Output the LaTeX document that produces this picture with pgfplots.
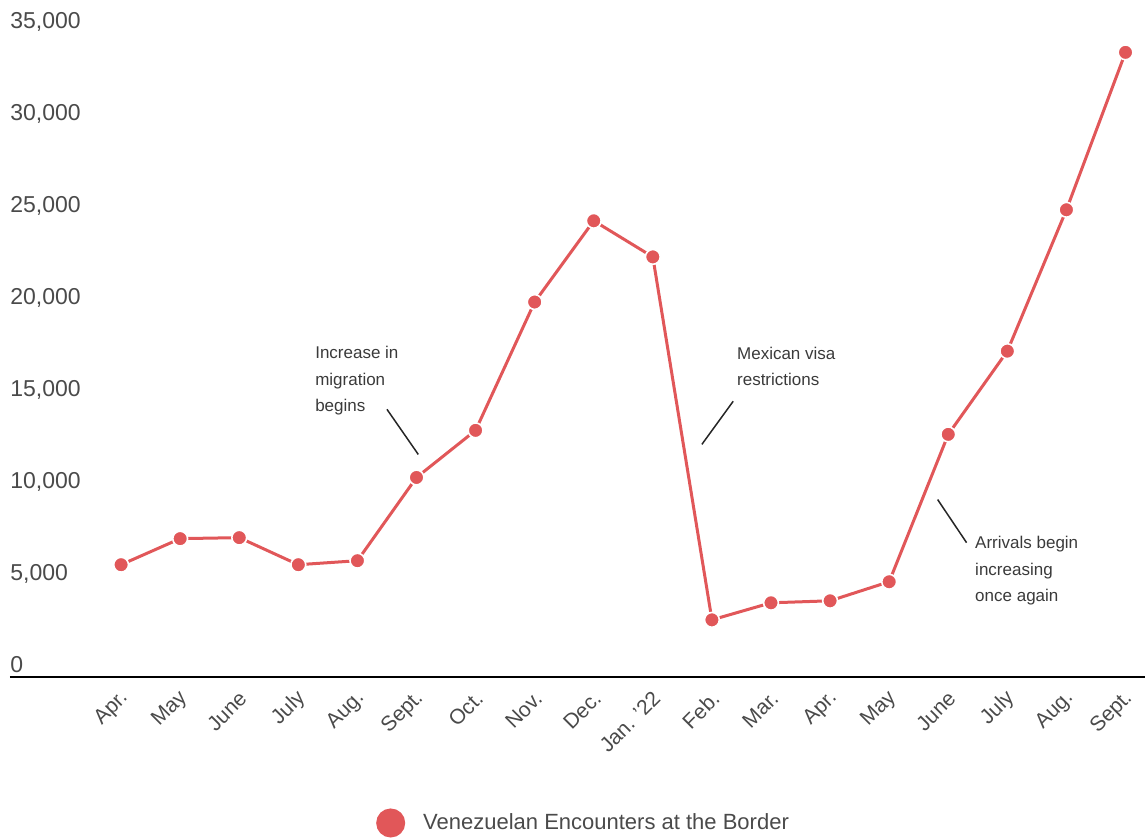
\documentclass[border=0pt]{standalone}
\usepackage{pgfplots}
\pgfplotsset{compat=1.18}
\usepackage{fontspec}
\setmainfont{Liberation Sans}
\definecolor{vzred}{HTML}{E15759}
\definecolor{ticktext}{HTML}{4A4A4A}
\definecolor{notetext}{HTML}{3A3A3A}

\begin{document}
\begin{tikzpicture}
\useasboundingbox (0pt,0pt) rectangle (572.5pt,418.5pt);
\begin{axis}[
  at={(5pt,80pt)}, anchor=south west,
  width=567.5pt, height=331pt, scale only axis,
  xmin=-1.88, xmax=17.33, ymin=0, ymax=36000,
  clip=false,
  axis x line*=bottom, axis y line*=left,
  x axis line style={draw=black, line width=1pt, -},
  y axis line style={draw=none},
  xtick={0,...,17},
  xticklabels={Apr.,May,June,July,Aug.,Sept.,Oct.,Nov.,Dec.,{Jan. '22},Feb.,Mar.,Apr.,May,June,July,Aug.,Sept.},
  ytick={0,5000,...,35000},
  major tick length=0pt,
  scaled y ticks=false,
  yticklabel style={anchor=base west, inner sep=0pt, yshift=2.5pt,
    font=\fontsize{11.5}{13}\selectfont, text=ticktext,
    /pgf/number format/.cd, fixed, 1000 sep={,}, assume math mode=true},
  xticklabel style={xshift=2pt, yshift=-9pt, rotate=45, anchor=east, inner sep=0pt,
    font=\fontsize{10.5}{12}\selectfont, text=ticktext},
  legend image code/.code={\fill[vzred] (0pt,0pt) circle (6.5pt);},
  legend style={draw=none, fill=none, at={(0.317,-0.2205)}, anchor=west,
    font=\fontsize{11}{13}\selectfont, text=ticktext},
  legend cell align=left,
]
\addplot[vzred, line width=1.5pt, mark=*, mark size=3.7pt,
  mark options={fill=vzred, draw=white, line width=0.8pt}]
  coordinates {
  (0,6107) (1,7525) (2,7579) (3,6107) (4,6325) (5,10851)
  (6,13413) (7,20392) (8,24809) (9,22846) (10,3108) (11,4035)
  (12,4144) (13,5180) (14,13195) (15,17721) (16,25409) (17,33970)
  };
\addlegendentry{\hspace{7pt}Venezuelan Encounters at the Border}

% annotations
\tikzset{note/.style={anchor=base west, inner sep=0pt, text=notetext,
  font=\fontsize{8.5}{10}\selectfont}}
\node[note] at (axis cs:3.28,17339) {Increase in};
\node[note] at (axis cs:3.28,15867) {migration};
\node[note] at (axis cs:3.28,14449) {begins};
\draw[black!85, line width=0.75pt] (axis cs:4.50,14558) -- (axis cs:5.03,12105);

\node[note] at (axis cs:10.42,17285) {Mexican visa};
\node[note] at (axis cs:10.42,15867) {restrictions};
\draw[black!85, line width=0.75pt] (axis cs:10.36,14994) -- (axis cs:9.83,12650);

\node[note] at (axis cs:14.45,6979) {Arrivals begin};
\node[note] at (axis cs:14.45,5507) {increasing};
\node[note] at (axis cs:14.45,4089) {once again};
\draw[black!85, line width=0.75pt] (axis cs:13.82,9651) -- (axis cs:14.31,7306);
\end{axis}
\end{tikzpicture}
\end{document}
